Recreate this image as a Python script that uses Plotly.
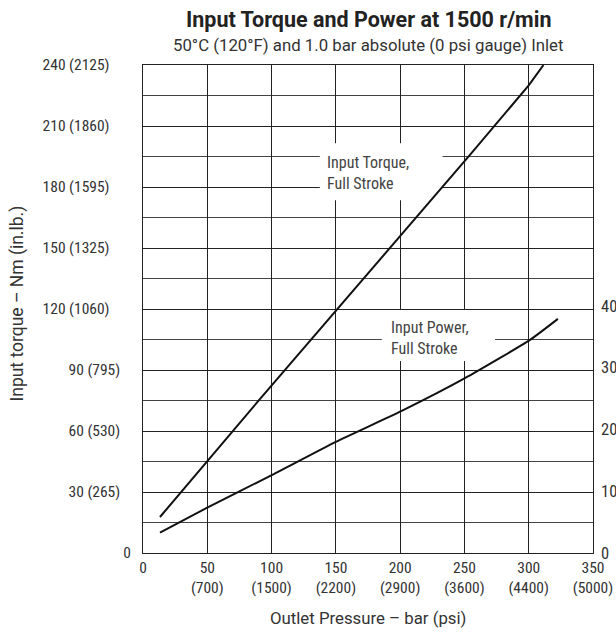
import plotly.graph_objects as go

# ---- data ----
torque_pressure_bar = [13.2, 49.6, 90.4, 254.3, 300, 311.5]
torque_nm = [17.7, 44.9, 75.3, 195.8, 230, 240]

power_pressure_bar = [13.2, 49.6, 100.9, 150, 201.2, 250.4, 301, 322.7]
power_kw = [3.3, 7.3, 12.7, 18.0, 23.0, 28.3, 34.5, 37.9]

x_tick_vals = [0, 50, 100, 150, 200, 250, 300, 350]
x_tick_text = ["0", "50<br>(700)", "100<br>(1500)", "150<br>(2200)", "200<br>(2900)",
               "250<br>(3600)", "300<br>(4400)", "350<br>(5000)"]

y_tick_vals = [0, 30, 60, 90, 120, 150, 180, 210, 240]
y_tick_text = ["0", "30 (265)", "60 (530)", "90 (795)", "120 (1060)", "150 (1325)",
               "180 (1595)", "210 (1860)", "240 (2125)"]

kw_tick_vals = [0, 10, 20, 30, 40]
kw_tick_text = ["0", "10", "20", "30", "40"]

COND = "Roboto Condensed, Archivo Narrow, IBM Plex Sans Condensed, sans-serif"
REG = "Roboto, Liberation Sans, sans-serif"
TXT = "#333333"
FS = 15.5
NB = "\u00a0"

# pad labels so their right edges sit like the reference
def pad(t):
    if t == "0":
        return t
    if len(t) <= 8:
        return t + NB * 3
    return t + NB * 6

fig = go.Figure()
fig.add_trace(go.Scatter(x=torque_pressure_bar, y=torque_nm, mode="lines",
                         line=dict(color="#111111", width=2), showlegend=False,
                         hoverinfo="skip"))
fig.add_trace(go.Scatter(x=power_pressure_bar, y=power_kw, mode="lines", yaxis="y2",
                         line=dict(color="#111111", width=2, shape="spline", smoothing=0.5),
                         showlegend=False, hoverinfo="skip"))

fig.update_layout(
    width=616, height=633,
    margin=dict(l=143, r=23, t=65, b=80),
    paper_bgcolor="white", plot_bgcolor="white",
    font=dict(family=COND, size=FS, color=TXT),
    xaxis=dict(range=[0, 350], tickvals=x_tick_vals, ticktext=x_tick_text,
               showgrid=True, gridcolor="#222222", gridwidth=1, automargin=False,
               showline=True, linecolor="#222222", linewidth=1, mirror=True,
               ticks="", zeroline=False, tickfont=dict(size=FS, color=TXT)),
    yaxis=dict(range=[0, 240], tickvals=y_tick_vals, ticktext=[pad(t) for t in y_tick_text],
               showgrid=True, gridcolor="#222222", gridwidth=1, automargin=False,
               minor=dict(tickmode="linear", tick0=0, dtick=15, showgrid=True,
                          gridcolor="#444444", gridwidth=1, ticks=""),
               showline=True, linecolor="#222222", linewidth=1, mirror=True,
               ticks="", zeroline=False, ticklabelstandoff=8,
               tickfont=dict(size=FS, color=TXT)),
    yaxis2=dict(range=[0, 79], overlaying="y", side="right", tickvals=kw_tick_vals,
                ticktext=kw_tick_text, showgrid=False, zeroline=False, ticks="",
                automargin=False, showline=False, ticklabelstandoff=7,
                tickfont=dict(size=FS + 1, color=TXT)),
)

# white masks behind the curve labels (between grid and traces)
fig.add_shape(type="rect", xref="x", yref="y", x0=137.5, x1=233, y0=173.5, y1=201.5,
              fillcolor="white", line=dict(width=0), layer="between")
fig.add_shape(type="rect", xref="x", yref="y", x0=185.7, x1=273.8, y0=94.4, y1=119.5,
              fillcolor="white", line=dict(width=0), layer="between")

fig.add_annotation(x=141.5, y=186.7, xref="x", yref="y", xanchor="left", yanchor="middle",
                   text="Input Torque,<br>Full Stroke", showarrow=False, align="left",
                   font=dict(size=FS + 0.5, color="#444444"))
fig.add_annotation(x=191, y=105.6, xref="x", yref="y", xanchor="left", yanchor="middle",
                   text="Input Power,<br>Full Stroke", showarrow=False, align="left",
                   font=dict(size=FS + 0.5, color="#444444"))

# titles
fig.add_annotation(x=0.5, y=1.0932, xref="paper", yref="paper", xanchor="center", yanchor="middle",
                   text="<b>Input Torque and Power at 1500 r/min</b>", showarrow=False,
                   font=dict(family=REG, size=21.5, color="#222222"))
fig.add_annotation(x=0.5, y=1.041, xref="paper", yref="paper", xanchor="center", yanchor="middle",
                   text="50°C (120°F) and 1.0 bar absolute (0 psi gauge) Inlet", showarrow=False,
                   font=dict(family=REG, size=16.8, color=TXT))
fig.add_annotation(x=0.5, y=-0.133, xref="paper", yref="paper", xanchor="center", yanchor="middle",
                   text="Outlet Pressure – bar (psi)", showarrow=False,
                   font=dict(family=REG, size=16.8, color=TXT))
fig.add_annotation(x=-0.278, y=0.511, xref="paper", yref="paper", xanchor="center", yanchor="middle",
                   text="Input torque – Nm (in.lb.)", showarrow=False, textangle=-90,
                   font=dict(family=REG, size=17.5, color=TXT))

fig.write_html("out.html", config={"displayModeBar": False, "staticPlot": True},
               post_script="document.body.style.margin='0';")
